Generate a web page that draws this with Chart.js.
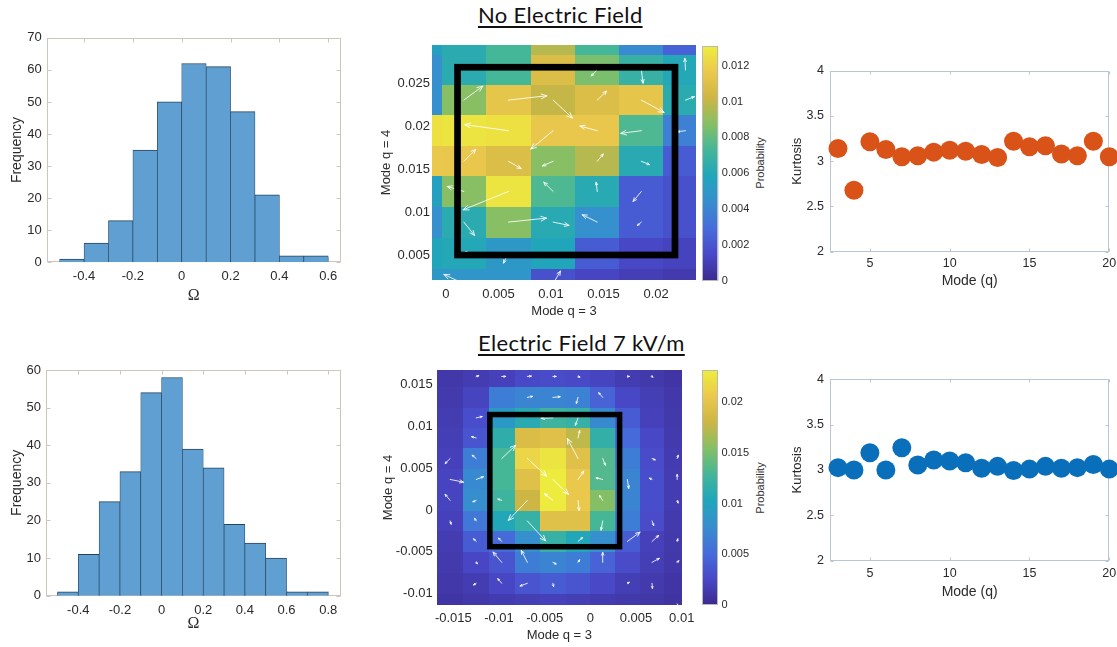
<!DOCTYPE html>
<html><head><meta charset="utf-8">
<script src="https://cdn.jsdelivr.net/npm/chart.js@4.4.1/dist/chart.umd.min.js"></script>
<style>
html,body{margin:0;padding:0;background:#fff;}
body{width:1117px;height:647px;position:relative;overflow:hidden;}
canvas{position:absolute;}
.ttl{position:absolute;left:478px;font-family:Lato,"Open Sans",sans-serif;font-size:22px;letter-spacing:0.35px;line-height:22px;color:#111;white-space:nowrap;text-decoration:underline;text-decoration-thickness:1.5px;text-underline-offset:3px;}
.prob{position:absolute;font-family:"Liberation Sans",Arial,sans-serif;font-size:11px;color:#333;white-space:nowrap;transform:translate(-50%,-50%) rotate(-90deg);}
</style></head>
<body>
<div class="ttl" style="top:4px">No Electric Field</div>
<div class="ttl" style="top:332px">Electric Field 7 kV/m</div>
<div class="prob" style="left:760px;top:163px">Probability</div>
<div class="prob" style="left:760px;top:488px">Probability</div>
<canvas id="h1"></canvas><canvas id="h2"></canvas>
<canvas id="m1"></canvas><canvas id="m2"></canvas>
<canvas id="c1"></canvas><canvas id="c2"></canvas>
<canvas id="s1"></canvas><canvas id="s2"></canvas>
<script>
// ================= DATA =================
const hist1Centers = [-0.45,-0.35,-0.25,-0.15,-0.05,0.05,0.15,0.25,0.35,0.45,0.55];
const hist1Counts  = [1,6,13,35,50,62,61,47,21,2,2];
const hist1XTicks  = [-0.4,-0.2,0,0.2,0.4,0.6];
const hist1YTicks  = [0,10,20,30,40,50,60,70];

const hist2Centers = [-0.45,-0.35,-0.25,-0.15,-0.05,0.05,0.15,0.25,0.35,0.45,0.55,0.65,0.75];
const hist2Counts  = [1,11,25,33,54,58,39,34,19,14,10,1,1];
const hist2XTicks  = [-0.4,-0.2,0,0.2,0.4,0.6,0.8];
const hist2YTicks  = [0,10,20,30,40,50,60];

const modes = [3,4,5,6,7,8,9,10,11,12,13,14,15,16,17,18,19,20];
const kurtosis1 = [3.14,2.68,3.215,3.13,3.05,3.06,3.10,3.12,3.11,3.075,3.04,3.22,3.16,3.17,3.08,3.06,3.22,3.05];
const kurtosis2 = [3.026,3.0,3.19,3.0,3.245,3.055,3.11,3.10,3.08,3.02,3.04,2.995,3.01,3.04,3.02,3.026,3.06,3.01];
const modeTicks = [5,10,15,20];
const kurtTicks = [2,2.5,3,3.5,4];

// Heatmap 1 (no field): cell edges, probabilities (rows top->bottom)
const map1XEdges = [-0.0042,-0.0004,0.0038,0.0081,0.0123,0.0165,0.0207,0.0249];
const map1YEdges = [0.0318,0.0283,0.0248,0.0213,0.0177,0.0142,0.0107,0.0071,0.0035,0.0000];
const map1Prob = [
 [0.0055,0.0063,0.0073,0.0097,0.0073,0.0042,0.0025],
 [0.0045,0.0063,0.0073,0.0108,0.0085,0.0068,0.0060],
 [0.0045,0.0088,0.0114,0.0100,0.0108,0.0114,0.0063],
 [0.0126,0.0127,0.0126,0.0115,0.0115,0.0075,0.0038],
 [0.0116,0.0115,0.0108,0.0088,0.0097,0.0062,0.0022],
 [0.0055,0.0088,0.0127,0.0075,0.0062,0.0022,0.0018],
 [0.0045,0.0063,0.0088,0.0062,0.0045,0.0022,0.0018],
 [0.0058,0.0060,0.0050,0.0058,0.0022,0.0014,0.0012],
 [0.0050,0.0048,0.0048,0.0018,0.0013,0.0010,0.0008]];
// quiver components (units of 1e-4)
const map1U = [
 [0,0,0,0,0,0,0],
 [0,0,0,0,-5.7,1.6,-0.6],
 [0,18.1,36.5,18.4,8.9,21.6,8.6],
 [0,0,-41.6,-21.3,-16.5,-19.7,-7.9],
 [0,11.4,12.1,-10.2,5.7,7.9,0],
 [0,-15.9,-43.2,-8.9,-1.0,-7.9,0],
 [0,10.2,36.2,15.2,-14.3,-3.8,0],
 [0,3.2,-4.8,0,0,0,0],
 [0,-19.0,0,7.0,0,0,0]];
const map1V = [
 [0,0,0,0,0,0,0],
 [0,0,0,0,-7.0,-15.5,13.5],
 [0,16.2,5.0,-20.9,10.4,-14.3,3.9],
 [0,0,7.0,-21.3,5.4,-3.1,-1.2],
 [0,13.9,-8.5,-5.4,8.5,-3.9,0],
 [0,5.8,-21.3,10.8,10.8,-11.6,0],
 [0,-15.5,4.6,-3.9,8.5,-3.9,0],
 [0,1.9,-11.6,0,0,0,0],
 [0,10.8,0,14.7,0,0,0]];
const map1Box = [0.0011,0.0218,0.00508,0.02686];
const map1XTicks = [0,0.005,0.01,0.015,0.02];
const map1YTicks = [0.005,0.01,0.015,0.02,0.025];
const cb1Max = 0.0131;
const cb1Ticks = [0,0.002,0.004,0.006,0.008,0.01,0.012];

// Heatmap 2 (7 kV/m)
const map2XEdges = [-0.0168,-0.0139,-0.0111,-0.0083,-0.0055,-0.0027,0.0000,0.0027,0.0054,0.0081,0.0109];
const map2YEdges = [0.0172,0.0147,0.0122,0.0098,0.0074,0.0049,0.0024,-0.0001,-0.0025,-0.0050,-0.0075,-0.0100,-0.0124];
const map2Prob = [
 [0.0012,0.0016,0.0020,0.0026,0.0028,0.0026,0.0022,0.0016,0.0013,0.0010],
 [0.0014,0.0022,0.0065,0.0070,0.0070,0.0068,0.0045,0.0025,0.0018,0.0012],
 [0.0016,0.0030,0.0090,0.0110,0.0125,0.0120,0.0075,0.0040,0.0020,0.0013],
 [0.0018,0.0035,0.0115,0.0190,0.0195,0.0175,0.0118,0.0050,0.0025,0.0014],
 [0.0020,0.0065,0.0130,0.0215,0.0225,0.0195,0.0135,0.0065,0.0028,0.0015],
 [0.0022,0.0075,0.0130,0.0195,0.0230,0.0205,0.0135,0.0070,0.0030,0.0016],
 [0.0022,0.0078,0.0125,0.0180,0.0230,0.0205,0.0155,0.0070,0.0030,0.0016],
 [0.0020,0.0060,0.0105,0.0120,0.0195,0.0195,0.0130,0.0065,0.0028,0.0014],
 [0.0016,0.0040,0.0050,0.0080,0.0120,0.0105,0.0080,0.0040,0.0020,0.0013],
 [0.0014,0.0024,0.0035,0.0065,0.0070,0.0065,0.0045,0.0028,0.0018,0.0012],
 [0.0012,0.0016,0.0024,0.0035,0.0040,0.0035,0.0026,0.0018,0.0014,0.0010],
 [0.0010,0.0012,0.0015,0.0018,0.0020,0.0018,0.0015,0.0013,0.0011,0.0009]];
const map2U = [
 [0,2.9,4.4,4.4,3.6,2.2,0,2.2,1.1,0],
 [0,0,0,5.8,8.0,-1.8,-4.4,0,0,0],
 [0,6.6,0,0,-12.8,-2.9,0,0,0,0],
 [0,-5.1,0,0,0,1.8,0,0,0,0],
 [-5.5,-4.4,15.3,21.2,0,-11.7,2.9,0,3.6,1.1],
 [14.6,8.0,0,0,17.1,6.2,-7.3,1.5,-2.9,0],
 [-5.5,-3.6,-4.4,-20.8,-9.1,1.1,-3.6,0,0,1.1],
 [1.1,-1.8,0,20.1,0,0,-1.8,0,1.8,0],
 [0,-2.9,-3.6,0,0,5.1,0,13.9,7.3,0.7],
 [0,1.5,-9.5,-6.6,3.6,1.8,0,0,8.0,1.8],
 [0,-2.9,-4.4,-8.0,0.7,0,0,2.2,0.4,0],
 [0,0,0,0,0,0,0,0,0,1.5]];
const map2V = [
 [0,0.8,0,0.4,0,-0.8,0,0,-0.8,0],
 [0,0,0,1.2,0.8,-7.2,5.6,0,0,0],
 [0,1.6,0,0,-0.4,-8.8,0,0,0,0],
 [0,1.6,0,0,0,8.8,0,0,0,0],
 [-6.0,4.0,15.9,-21.1,0,23.9,-8.0,0,-1.6,4.0],
 [-3.2,3.2,0,0,-17.9,10.0,2.0,-10.7,1.6,6.0],
 [7.2,-1.6,1.6,-23.9,8.0,-11.9,6.0,0,0,-3.2],
 [-4.0,3.2,0,-23.9,0,0,-11.1,0,-5.6,0],
 [0,3.2,4.0,0,0,4.8,0,11.1,7.2,3.2],
 [0,-1.6,12.3,14.3,-2.0,3.2,11.9,0,4.8,2.0],
 [0,-2.0,5.6,-3.2,-4.0,0,0,1.2,-6.0,0],
 [0,0,0,0,0,0,0,0,0,-4.0]];
const map2Box = [-0.0110,0.0032,-0.00438,0.0114];
const map2XTicks = [-0.015,-0.01,-0.005,0,0.005,0.01];
const map2YTicks = [-0.01,-0.005,0,0.005,0.01,0.015];
const cb2Max = 0.0232;
const cb2Ticks = [0,0.005,0.01,0.015,0.02];
const QUIVER_UNIT = 1e-4;

// ================= STYLE / HELPERS =================
const FONT = '"Liberation Sans", Arial, sans-serif';
const TXT = '#2a2a2a';
// parula colormap, 10 evenly spaced stops
const PARULA = [[0.2422,0.1504,0.6603],[0.2803,0.2782,0.9221],[0.2440,0.4358,0.9988],[0.1540,0.5902,0.9218],
 [0.0297,0.7082,0.8163],[0.1938,0.7758,0.6251],[0.5044,0.7993,0.3480],[0.8634,0.7406,0.1596],
 [0.9892,0.8136,0.1885],[0.9769,0.9839,0.0805]];
const MUTE = 0.2; // slight desaturation, as in the printed figure
function parula(t){
  t = Math.max(0, Math.min(1, t)) * (PARULA.length - 1);
  const i = Math.min(PARULA.length - 2, Math.floor(t)), r = t - i;
  const a = PARULA[i], b = PARULA[i+1];
  const rgb = [0,1,2].map(k => a[k] + (b[k] - a[k]) * r);
  const L = 0.3 * rgb[0] + 0.59 * rgb[1] + 0.11 * rgb[2];
  const c = k => Math.round(255 * (rgb[k] * (1 - MUTE) + L * MUTE) * 0.97);
  return `rgb(${c(0)},${c(1)},${c(2)})`;
}
const fmt = v => { const s = String(Number((+v).toFixed(4))); return s === '-0' ? '0' : s; };

function place(id, left, top, w, h){
  const c = document.getElementById(id);
  c.width = w; c.height = h; c.style.left = left + 'px'; c.style.top = top + 'px';
  c.style.width = w + 'px'; c.style.height = h + 'px';
  return c;
}
function linAxis(o){
  return {
    type: 'linear', position: o.position, min: o.min, max: o.max, offset: false,
    grid: {display: false, drawTicks: false, offset: false}, border: {display: false},
    afterBuildTicks: s => { s.ticks = o.ticks.map(v => ({value: v})); },
    afterFit: s => { if (o.axis === 'x') s.height = o.fixed; else s.width = o.fixed; },
    ticks: {font: {family: FONT, size: o.fontSize}, color: TXT, padding: o.pad, autoSkip: false, maxRotation: 0, callback: v => fmt(v)},
    title: o.title ? {display: true, text: o.title, color: TXT, font: {family: o.titleFamily || FONT, size: o.titleSize}, padding: o.titlePad} : {display: false}
  };
}
function framePlugin(color, tickLen){
  return {id: 'frame', beforeDatasetsDraw(chart){
    const {ctx, chartArea: a, scales} = chart;
    ctx.save(); ctx.strokeStyle = color; ctx.lineWidth = 1;
    const L = Math.round(a.left) + 0.5, R = Math.round(a.right) - 0.5, T = Math.round(a.top) + 0.5, B = Math.round(a.bottom) - 0.5;
    ctx.strokeRect(L, T, R - L, B - T);
    ctx.beginPath();
    scales.x.ticks.forEach(t => { const p = Math.round(scales.x.getPixelForValue(t.value)) + 0.5;
      ctx.moveTo(p, B); ctx.lineTo(p, B - tickLen); ctx.moveTo(p, T); ctx.lineTo(p, T + tickLen); });
    scales.y.ticks.forEach(t => { const p = Math.round(scales.y.getPixelForValue(t.value)) + 0.5;
      ctx.moveTo(L, p); ctx.lineTo(L + tickLen, p); ctx.moveTo(R, p); ctx.lineTo(R - tickLen, p); });
    ctx.stroke(); ctx.restore();
  }};
}
function heatPlugin(h){
  return {id: 'heat', beforeDatasetsDraw(chart){
    const {ctx, chartArea: a, scales: {x, y}} = chart;
    ctx.save(); ctx.beginPath(); ctx.rect(a.left, a.top, a.width, a.height); ctx.clip();
    for (let r = 0; r < h.vals.length; r++) for (let c = 0; c < h.vals[r].length; c++) {
      const x0 = Math.round(x.getPixelForValue(h.xE[c])), x1 = Math.round(x.getPixelForValue(h.xE[c+1]));
      const y0 = Math.round(y.getPixelForValue(h.yE[r])), y1 = Math.round(y.getPixelForValue(h.yE[r+1]));
      ctx.fillStyle = parula(h.vals[r][c] / h.vmax);
      ctx.fillRect(Math.min(x0,x1), Math.min(y0,y1), Math.abs(x1-x0), Math.abs(y1-y0));
    }
    ctx.strokeStyle = 'rgba(255,255,255,0.85)'; ctx.lineWidth = 1; ctx.lineCap = 'round';
    for (let r = 0; r < h.U.length; r++) for (let c = 0; c < h.U[r].length; c++) {
      const u = h.U[r][c], v = h.V[r][c]; if (!u && !v) continue;
      const cx = (h.xE[c] + h.xE[c+1]) / 2, cy = (h.yE[r] + h.yE[r+1]) / 2;
      const px0 = x.getPixelForValue(cx), py0 = y.getPixelForValue(cy);
      const px1 = x.getPixelForValue(cx + u * h.unit), py1 = y.getPixelForValue(cy + v * h.unit);
      const len = Math.hypot(px1 - px0, py1 - py0); const ang = Math.atan2(py1 - py0, px1 - px0);
      const hl = Math.max(2, Math.min(6, 0.3 * len));
      ctx.beginPath(); ctx.moveTo(px0, py0); ctx.lineTo(px1, py1);
      ctx.moveTo(px1 - hl * Math.cos(ang - 0.4), py1 - hl * Math.sin(ang - 0.4)); ctx.lineTo(px1, py1);
      ctx.lineTo(px1 - hl * Math.cos(ang + 0.4), py1 - hl * Math.sin(ang + 0.4));
      ctx.stroke();
    }
    ctx.restore();
    ctx.save(); ctx.strokeStyle = '#000'; ctx.lineWidth = h.boxW; ctx.lineJoin = 'miter';
    const bx0 = x.getPixelForValue(h.box[0]), bx1 = x.getPixelForValue(h.box[1]);
    const by0 = y.getPixelForValue(h.box[2]), by1 = y.getPixelForValue(h.box[3]);
    ctx.strokeRect(bx0, by1, bx1 - bx0, by0 - by1);
    ctx.restore();
  }};
}

// ================= HISTOGRAMS =================
function histogram(id, cv, area, centers, counts, xr, xt, yr, yt){
  const c = place(id, cv.left, cv.top, cv.w, cv.h);
  new Chart(c, {
    type: 'bar',
    data: {datasets: [{data: centers.map((x, i) => ({x, y: counts[i]})),
      backgroundColor: '#5f9fd1', borderColor: '#27445f', borderWidth: {top: 1, left: 0.7, right: 0.7, bottom: 0},
      borderSkipped: false, barPercentage: 1, categoryPercentage: 1}]},
    options: {
      responsive: false, animation: false, devicePixelRatio: 1,
      layout: {padding: {left: 0, top: area.t - cv.top, right: cv.left + cv.w - area.r, bottom: 0}},
      plugins: {legend: {display: false}, tooltip: {enabled: false}},
      scales: {
        x: linAxis({axis: 'x', position: 'bottom', min: xr[0], max: xr[1], ticks: xt, fixed: cv.top + cv.h - area.b, fontSize: 13, pad: 6.5,
          title: 'Ω', titleFamily: '"Liberation Serif", "DejaVu Serif", serif', titleSize: 16, titlePad: {top: 0, bottom: cv.pb}}),
        y: linAxis({axis: 'y', position: 'left', min: yr[0], max: yr[1], ticks: yt, fixed: area.l - cv.left, fontSize: 13, pad: 5,
          title: 'Frequency', titleSize: 14, titlePad: {top: 8.6, bottom: 0}})
      }
    },
    plugins: [framePlugin('#cfc4be', 4)]
  });
}
histogram('h1', {left: 0, top: 25, w: 352, h: 281, pb: 0.4}, {l: 46.7, t: 37.3, r: 340.7, b: 262.3},
  hist1Centers, hist1Counts, [-0.553, 0.651], hist1XTicks, [0, 70], hist1YTicks);
histogram('h2', {left: 0, top: 355, w: 352, h: 278, pb: 0.1}, {l: 46, t: 370, r: 340.7, b: 595.7},
  hist2Centers, hist2Counts, [-0.555, 0.86], hist2XTicks, [0, 60], hist2YTicks);

// ================= HEATMAPS =================
function heatmap(id, cv, area, h, xr, xt, yr, yt, xPad, yPad){
  const c = place(id, cv.left, cv.top, cv.w, cv.h);
  const pts = [];
  h.vals.forEach((row, r) => row.forEach((v, k) => pts.push({x: (h.xE[k] + h.xE[k+1]) / 2, y: (h.yE[r] + h.yE[r+1]) / 2, p: v})));
  new Chart(c, {
    type: 'scatter',
    data: {datasets: [{data: pts, pointRadius: 0, pointHoverRadius: 0}]},
    options: {
      responsive: false, animation: false, devicePixelRatio: 1,
      layout: {padding: {left: 0, top: area.t - cv.top, right: cv.left + cv.w - area.r, bottom: 0}},
      plugins: {legend: {display: false}, tooltip: {enabled: false}},
      scales: {
        x: linAxis({axis: 'x', position: 'bottom', min: xr[0], max: xr[1], ticks: xt, fixed: cv.top + cv.h - area.b, fontSize: 13, pad: xPad,
          title: 'Mode q = 3', titleSize: 13, titlePad: {top: 0, bottom: cv.pb}}),
        y: linAxis({axis: 'y', position: 'left', min: yr[0], max: yr[1], ticks: yt, fixed: area.l - cv.left, fontSize: 13, pad: yPad,
          title: 'Mode q = 4', titleSize: 13, titlePad: {top: cv.pt, bottom: 0}})
      }
    },
    plugins: [heatPlugin(h)]
  });
}
heatmap('m1', {left: 376, top: 30, w: 330, h: 289, pb: 0.2, pt: 2.9}, {l: 432, t: 45, r: 696, b: 280},
  {xE: map1XEdges, yE: map1YEdges, vals: map1Prob, vmax: cb1Max, U: map1U, V: map1V, unit: QUIVER_UNIT, box: map1Box, boxW: 6.7},
  [-0.00133, 0.0238], map1XTicks, [0.00218, 0.02944], map1YTicks, 7, 2);
heatmap('m2', {left: 378, top: 355, w: 322, h: 288, pb: 0.2, pt: 2.5}, {l: 436.7, t: 370, r: 682, b: 605},
  {xE: map2XEdges, yE: map2YEdges, vals: map2Prob, vmax: cb2Max, U: map2U, V: map2V, unit: QUIVER_UNIT, box: map2Box, boxW: 5.5},
  [-0.01682, 0.01003], map2XTicks, [-0.01134, 0.01672], map2YTicks, 5.5, 4);

// ================= COLORBARS =================
function colorbar(id, cv, area, vmax, ticks){
  const c = place(id, cv.left, cv.top, cv.w, cv.h);
  new Chart(c, {
    type: 'bar',
    data: {labels: ['p'], datasets: [{data: [[0, vmax]], barPercentage: 1, categoryPercentage: 1, borderWidth: 0,
      backgroundColor: ctx => {
        const a = ctx.chart.chartArea; if (!a) return '#888';
        const g = ctx.chart.ctx.createLinearGradient(0, a.bottom, 0, a.top);
        for (let i = 0; i <= 36; i++) g.addColorStop(i / 36, parula(i / 36));
        return g;
      }}]},
    options: {
      responsive: false, animation: false, devicePixelRatio: 1,
      layout: {padding: {left: area.l - cv.left, top: area.t - cv.top, right: 0, bottom: cv.top + cv.h - area.b}},
      plugins: {legend: {display: false}, tooltip: {enabled: false}},
      scales: {
        x: {display: false},
        y: linAxis({axis: 'y', position: 'right', min: 0, max: vmax, ticks: ticks, fixed: cv.left + cv.w - area.r, fontSize: 11, pad: 3.5})
      }
    },
    plugins: [{id: 'cbframe', afterDatasetsDraw(chart){
      const {ctx, chartArea: a} = chart; ctx.save(); ctx.strokeStyle = '#b9b9b9'; ctx.lineWidth = 1;
      ctx.strokeRect(Math.round(a.left) + 0.5, Math.round(a.top) + 0.5, Math.round(a.width) - 1, Math.round(a.height) - 1); ctx.restore();
    }}]
  });
}
colorbar('c1', {left: 702, top: 30, w: 60, h: 270}, {l: 702.3, t: 46, r: 718.3, b: 280.7}, cb1Max, cb1Ticks);
colorbar('c2', {left: 702, top: 355, w: 60, h: 270}, {l: 702, t: 370, r: 718, b: 605}, cb2Max, cb2Ticks);

// ================= KURTOSIS SCATTERS =================
function kurtPlot(id, cv, area, vals, color, xPad){
  const c = place(id, cv.left, cv.top, cv.w, cv.h);
  new Chart(c, {
    type: 'scatter',
    data: {datasets: [{data: modes.map((m, i) => ({x: m, y: vals[i]})), backgroundColor: color, borderWidth: 0,
      pointRadius: 9.5, pointHoverRadius: 9.5, clip: false}]},
    options: {
      responsive: false, animation: false, devicePixelRatio: 1,
      layout: {padding: {left: 0, top: area.t - cv.top, right: cv.left + cv.w - area.r, bottom: 0}},
      plugins: {legend: {display: false}, tooltip: {enabled: false}},
      scales: {
        x: linAxis({axis: 'x', position: 'bottom', min: 2.5, max: 20, ticks: modeTicks, fixed: cv.top + cv.h - area.b, fontSize: 12.5, pad: xPad,
          title: 'Mode (q)', titleSize: 14, titlePad: {top: 0, bottom: cv.pb}}),
        y: linAxis({axis: 'y', position: 'left', min: 2, max: 4, ticks: kurtTicks, fixed: area.l - cv.left, fontSize: 12.5, pad: 6,
          title: 'Kurtosis', titleSize: 13, titlePad: {top: 2.5, bottom: 0}})
      }
    },
    plugins: [framePlugin('#b9c7d3', 3)]
  });
}
kurtPlot('s1', {left: 787, top: 55, w: 336, h: 235, pb: 0}, {l: 830, t: 70.7, r: 1109.3, b: 251.7}, kurtosis1, '#d95319', 4);
kurtPlot('s2', {left: 787, top: 365, w: 336, h: 236, pb: 0.9}, {l: 830, t: 379.3, r: 1109.3, b: 560.7}, kurtosis2, '#0a6fbb', 5.5);
</script>
</body></html>
